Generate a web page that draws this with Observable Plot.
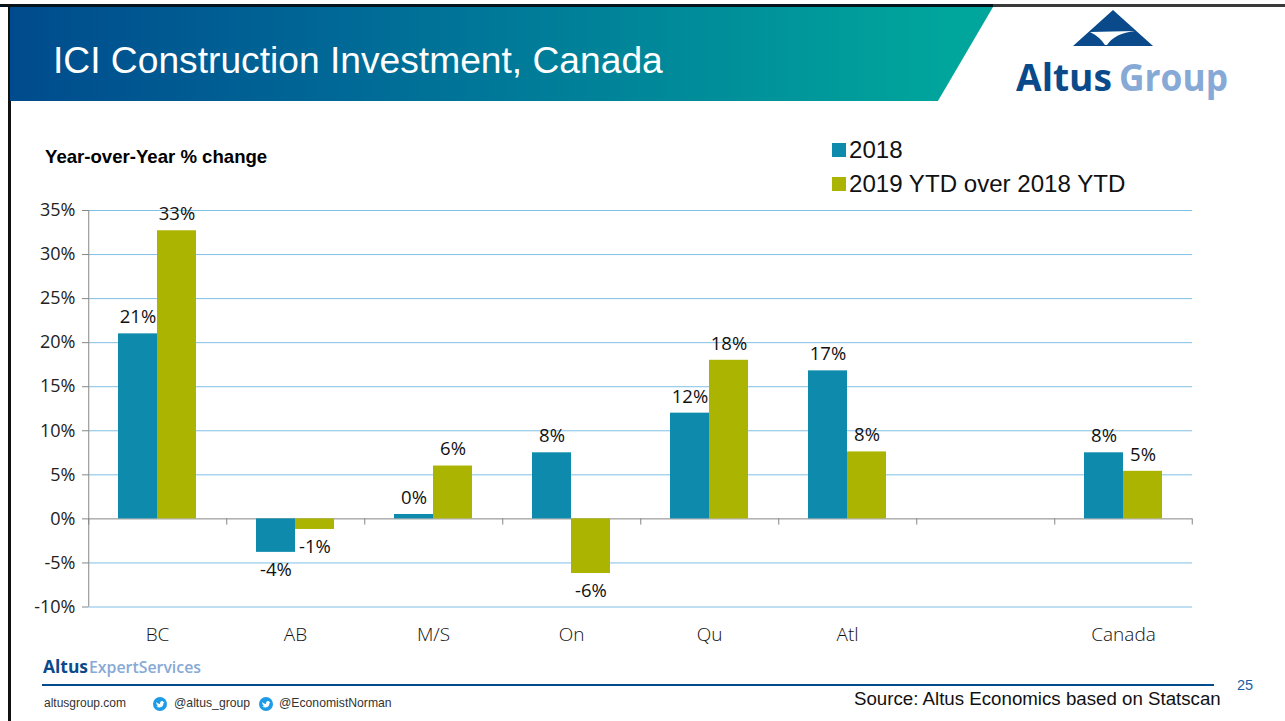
<!DOCTYPE html>
<html>
<head>
<meta charset="utf-8">
<script src="https://cdn.jsdelivr.net/npm/d3@7"></script>
<script src="https://cdn.jsdelivr.net/npm/@observablehq/plot@0.6"></script>
<style>
html,body{margin:0;padding:0;background:#fff;width:1285px;height:721px;overflow:hidden}
.a{position:absolute;white-space:nowrap;line-height:1;font-family:"Liberation Sans",sans-serif}
#chart{position:absolute;left:0;top:190px}
</style>
</head>
<body>
<div class="a" style="left:0;top:4px;width:993px;height:3px;background:#05141c"></div>
<div class="a" style="left:993px;top:4px;width:292px;height:3px;background:#3a3a3a"></div>
<div class="a" style="left:8px;top:4px;width:2.5px;height:717px;background:#111"></div>
<div class="a" style="left:10px;top:7px;width:983px;height:94px;background:linear-gradient(90deg,#004b8d 0%,#006a97 35%,#00a69c 96%);clip-path:polygon(0 0,100% 0,94.4% 100%,0 100%)"></div>
<div class="a" id="title" style="left:53px;top:42px;font-size:37.2px;color:#fff">ICI Construction Investment, Canada</div>

<svg class="a" style="left:1010px;top:5px" width="230" height="100" viewBox="1010 5 230 100">
  <polygon points="1113,10 1153,46 1073,46" fill="#0a4a8a"/>
  <path d="M1090,32 L1135,31 Q1115,33 1107,45 L1105,45 Q1100,37 1090,32Z" fill="#fff"/>
  <text x="1016" y="91" font-family="Open Sans" font-weight="700" font-size="38" fill="#0a4a8a" textLength="96" lengthAdjust="spacingAndGlyphs">Altus</text>
  <text x="1119" y="91" font-family="Open Sans" font-weight="700" font-size="38" fill="#86a9d6" textLength="109" lengthAdjust="spacingAndGlyphs">Group</text>
</svg>

<div class="a" style="left:45px;top:148px;font-size:18.6px;font-weight:700;color:#000">Year-over-Year % change</div>
<div id="legend"></div>

<div id="chart"></div>

<svg class="a" style="left:40px;top:656px" width="170" height="24">
  <text x="3" y="17" font-family="Open Sans" font-weight="700" font-size="17" fill="#0a4a8a" textLength="45" lengthAdjust="spacingAndGlyphs">Altus</text>
  <text x="49" y="17" font-family="Open Sans" font-weight="600" font-size="17" fill="#86a9d6" textLength="112" lengthAdjust="spacingAndGlyphs">ExpertServices</text>
</svg>
<div class="a" style="left:42px;top:684px;width:1172px;height:2px;background:#004b8d"></div>
<div class="a" style="left:44px;top:697px;font-size:12px;color:#333">altusgroup.com</div>
<svg class="a" style="left:153px;top:697px" width="14" height="14" viewBox="0 0 14 14"><circle cx="7" cy="7" r="7" fill="#1c9be6"/><path d="M3 5 Q5 7 7 7 Q7 4 9 4 Q10 4 10.500 5 L11.500 5 L10.500 6 Q10.500 10 6.500 10.500 Q4.500 10.500 3 9.500 Q4.500 9.500 5 9 Q3.500 8 3 5Z" fill="#fff"/></svg>
<div class="a" style="left:174px;top:697px;font-size:12.2px;color:#333">@altus_group</div>
<svg class="a" style="left:259px;top:697px" width="14" height="14" viewBox="0 0 14 14"><circle cx="7" cy="7" r="7" fill="#1c9be6"/><path d="M3 5 Q5 7 7 7 Q7 4 9 4 Q10 4 10.500 5 L11.500 5 L10.500 6 Q10.500 10 6.500 10.500 Q4.500 10.500 3 9.500 Q4.500 9.500 5 9 Q3.500 8 3 5Z" fill="#fff"/></svg>
<div class="a" style="left:279px;top:697px;font-size:12.2px;color:#333">@EconomistNorman</div>
<div class="a" style="left:854px;top:690px;font-size:18.7px;color:#111">Source: Altus Economics based on Statscan</div>
<div class="a" style="left:1237px;top:678px;font-size:14.5px;color:#1b5fa8">25</div>

<script>
const categories = ["BC", "AB", "M/S", "On", "Qu", "Atl", " ", "Canada"];
const series = ["2018", "2019 YTD over 2018 YTD"];
const values2018 = [21, -3.8, 0.5, 7.5, 12, 16.8, null, 7.5];
const values2019 = [32.7, -1.2, 6, -6.2, 18, 7.6, null, 5.4];
const labels2018 = ["21%", "-4%", "0%", "8%", "12%", "17%", "", "8%"];
const labels2019 = ["33%", "-1%", "6%", "-6%", "18%", "8%", "", "5%"];
const yTicks = [-10, -5, 0, 5, 10, 15, 20, 25, 30, 35];
const colors = ["#0e8bac", "#abb400"];

const rows = categories.flatMap((c, i) => [
  {cat: c, s: series[0], v: values2018[i], t: labels2018[i]},
  {cat: c, s: series[1], v: values2019[i], t: labels2019[i]}
]).filter(d => d.v != null);

const FF = '"Open Sans", sans-serif';
const edge = 49.25;

const chart = Plot.plot({
  width: 1285, height: 460,
  marginLeft: 88, marginRight: 93, marginTop: 20, marginBottom: 43.5,
  style: {background: "transparent", fontFamily: FF, color: "#111"},
  fx: {domain: categories, padding: 0, label: null},
  x: {domain: series, paddingInner: 0, paddingOuter: 0.74, axis: null, label: null},
  y: {domain: [-10, 35], label: null},
  color: {domain: series, range: colors},
  marks: [
    Plot.ruleY(yTicks.filter(d => d !== 0), {y: d => d, stroke: "#7fc0e6", strokeWidth: 1}),
    Plot.ruleY([0], {stroke: "#868686", strokeWidth: 1}),
    Plot.ruleX(categories, {fx: d => d, x: () => series[0], y1: 0, y2: -0.7, dx: -edge, stroke: "#868686"}),
    Plot.ruleX(categories.slice(-1), {fx: d => d, x: () => series[1], y1: 0, y2: -0.7, dx: edge, stroke: "#868686"}),
    Plot.ruleX(categories.slice(0, 1), {fx: d => d, x: () => series[0], y1: -10, y2: 35, dx: -edge, stroke: "#868686"}),
    Plot.barY(rows, {fx: "cat", x: "s", y: "v", fill: "s"}),
    Plot.text(rows.filter(d => d.v >= 0), {fx: "cat", x: "s", y: "v", text: "t", dy: -16.5, fontSize: 18.5, fill: "#111"}),
    Plot.text(rows.filter(d => d.v < 0), {fx: "cat", x: "s", y: "v", text: "t", dy: 18, fontSize: 18.5, fill: "#111"}),
    Plot.axisY({ticks: yTicks, tickFormat: d => d + "%", tickSize: 6, tickPadding: 7, stroke: "#868686", fontSize: 18, color: "#222", label: null}),
    Plot.axisFx({anchor: "bottom", tickSize: 0, tickPadding: 20, fontSize: 19, fontWeight: 300, color: "#111", label: null})
  ]
});
chart.querySelectorAll("text").forEach(t => t.style.fontFamily = FF);
document.getElementById("chart").appendChild(chart);

const lg = document.getElementById("legend");
series.forEach((s, i) => {
  const y = 143 + i * 34;
  lg.insertAdjacentHTML("beforeend",
    `<div class="a" style="left:832px;top:${y}px;width:14px;height:14px;background:${colors[i]}"></div>` +
    `<div class="a" style="left:849px;top:${y - 5}px;font-size:24.1px;color:#111">${s}</div>`);
});
</script>
</body>
</html>
